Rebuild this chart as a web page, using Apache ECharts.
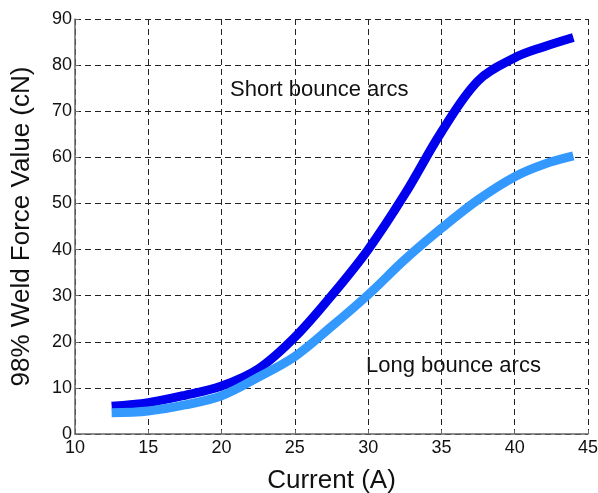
<!DOCTYPE html>
<html>
<head>
<meta charset="utf-8">
<script src="https://cdn.jsdelivr.net/npm/echarts@6/dist/echarts.min.js"></script>
<style>
  html, body { margin: 0; padding: 0; background: #fff; }
  #chart { width: 598px; height: 493px; }
</style>
</head>
<body>
<div id="chart"></div>
<script>
// current (A) sample points
var currentA = [12.5, 15, 17.5, 20, 22.5, 25, 27.5, 30, 32.5, 35, 37.5, 40, 42, 44];
// short bounce arcs (dark blue)
var shortArcs = [6.0, 6.8, 8.4, 10.4, 14.1, 21.0, 30.0, 40.0, 52.0, 65.5, 76.6, 81.6, 84.0, 86.0];
// long bounce arcs (light blue)
var longArcs = [4.6, 5.0, 6.3, 8.3, 12.3, 16.8, 23.3, 30.2, 37.8, 44.6, 50.8, 55.8, 58.5, 60.3];

var xTicks = [10, 45, 5];
var yTicks = [0, 90, 10];

function pairs(xs, ys) {
    var out = [];
    for (var i = 0; i < xs.length; i++) {
        out.push([xs[i], ys[i]]);
    }
    return out;
}

var chart = echarts.init(document.getElementById('chart'));

var gridLine = {
    show: true,
    lineStyle: {
        color: '#222',
        width: 1,
        type: [6, 4]
    }
};

var option = {
    backgroundColor: '#fff',
    animation: false,
    grid: {
        left: 75,
        right: 10,
        top: 19,
        bottom: 59,
        containLabel: false,
        outerBoundsMode: 'none'
    },
    xAxis: {
        type: 'value',
        min: xTicks[0],
        max: xTicks[1],
        interval: xTicks[2],
        name: 'Current (A)',
        nameLocation: 'middle',
        nameGap: 34,
        nameTextStyle: {
            fontFamily: 'Liberation Sans',
            fontSize: 26,
            color: '#111'
        },
        axisLine: { lineStyle: { color: '#666', width: 1.5 } },
        axisTick: { inside: true, length: 4, lineStyle: { color: '#666' } },
        axisLabel: {
            fontFamily: 'Liberation Sans',
            fontSize: 18,
            color: '#111',
            margin: 5
        },
        splitLine: gridLine
    },
    yAxis: {
        type: 'value',
        min: yTicks[0],
        max: yTicks[1],
        interval: yTicks[2],
        name: '98% Weld Force Value (cN)',
        nameLocation: 'middle',
        nameGap: 40,
        nameTextStyle: {
            fontFamily: 'Liberation Sans',
            fontSize: 26,
            color: '#111'
        },
        axisLine: { show: true, lineStyle: { color: '#666', width: 1.5 } },
        axisTick: { show: true, inside: true, length: 4, lineStyle: { color: '#666' } },
        axisLabel: {
            fontFamily: 'Liberation Sans',
            fontSize: 18,
            color: '#111',
            margin: 3
        },
        splitLine: gridLine
    },
    graphic: [{
        type: 'text',
        x: 230,
        y: 90,
        style: {
            text: 'Short bounce arcs',
            fontFamily: 'Liberation Sans',
            fontSize: 22,
            fill: '#111',
            verticalAlign: 'middle'
        }
    }, {
        type: 'text',
        x: 366,
        y: 366,
        style: {
            text: 'Long bounce arcs',
            fontFamily: 'Liberation Sans',
            fontSize: 22,
            fill: '#111',
            verticalAlign: 'middle'
        }
    }],
    series: [{
        name: 'Long bounce arcs',
        type: 'line',
        smooth: 0.35,
        showSymbol: false,
        data: pairs(currentA, longArcs),
        lineStyle: { color: '#3399ff', width: 9, cap: 'butt' },
        z: 3
    }, {
        name: 'Short bounce arcs',
        type: 'line',
        smooth: 0.35,
        showSymbol: false,
        data: pairs(currentA, shortArcs),
        lineStyle: { color: '#0000ee', width: 9, cap: 'butt' },
        z: 2
    }]
};

chart.setOption(option);
</script>
</body>
</html>
